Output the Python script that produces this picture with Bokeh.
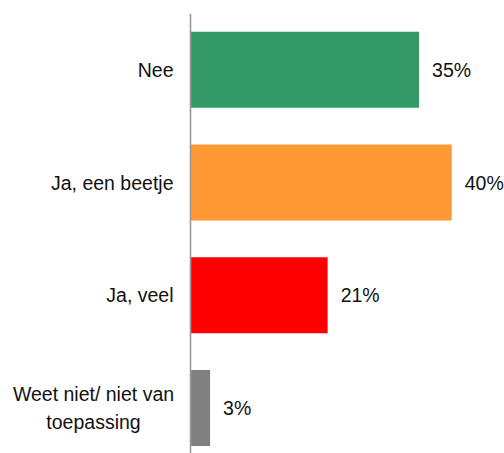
from bokeh.plotting import figure
from bokeh.models import ColumnDataSource, Range1d, Span
from bokeh.core.properties import value
from bokeh.embed import file_html
from bokeh.resources import INLINE

categories = ["Nee", "Ja, een beetje", "Ja, veel", "Weet niet/ niet van\ntoepassing"]
percentages = [35, 40, 21, 3]
bar_colors = ["#339966", "#FF9933", "#FF0000", "#808080"]
value_labels = [f"{v}%" for v in percentages]

positions = list(range(len(categories)))
src = ColumnDataSource(dict(y=positions, v=percentages, c=bar_colors, t=value_labels))

single = [(i, c) for i, c in zip(positions, categories) if "\n" not in c]
multi = [(i, c) for i, c in zip(positions, categories) if "\n" in c]
src_single = ColumnDataSource(dict(y=[i for i, _ in single], x=[0] * len(single),
                                   t=[c for _, c in single]))
src_multi = ColumnDataSource(dict(y=[i for i, _ in multi], x=[0] * len(multi),
                                  t=[c for _, c in multi]))

FONT = "Liberation Sans"
FS = "19.5px"
TXT = "#111111"
PX_PER_UNIT = 6.53

p = figure(width=504, height=453, output_backend="svg", toolbar_location=None,
           x_range=Range1d(-190 / PX_PER_UNIT, 314 / PX_PER_UNIT),
           y_range=Range1d(3.404, -0.5),
           min_border_left=0, min_border_right=0, min_border_top=13,
           min_border_bottom=0, x_axis_location=None, y_axis_location=None)

p.hbar(y="y", left=0, right="v", height=0.674, color="c", line_color=None, source=src)
p.text(x="v", y="y", text="t", source=src, x_offset=13, text_baseline="middle",
       text_align="left", text_font=value(FONT), text_font_size=FS, text_color=TXT)

p.text(x="x", y="y", text="t", source=src_single, x_offset=-17, text_baseline="middle",
       text_align="right", text_font=value(FONT), text_font_size=FS, text_color=TXT)
p.text(x="x", y="y", text="t", source=src_multi, x_offset=-97, text_baseline="middle",
       text_align="center", text_font=value(FONT), text_font_size=FS, text_color=TXT,
       text_line_height=1.28)

p.add_layout(Span(location=0, dimension="height", line_color="#999999", line_width=1.6))

p.xgrid.visible = False
p.ygrid.visible = False
p.outline_line_color = None
p.background_fill_color = "white"
p.border_fill_color = "white"

open("out.html", "w").write(file_html(p, INLINE))
